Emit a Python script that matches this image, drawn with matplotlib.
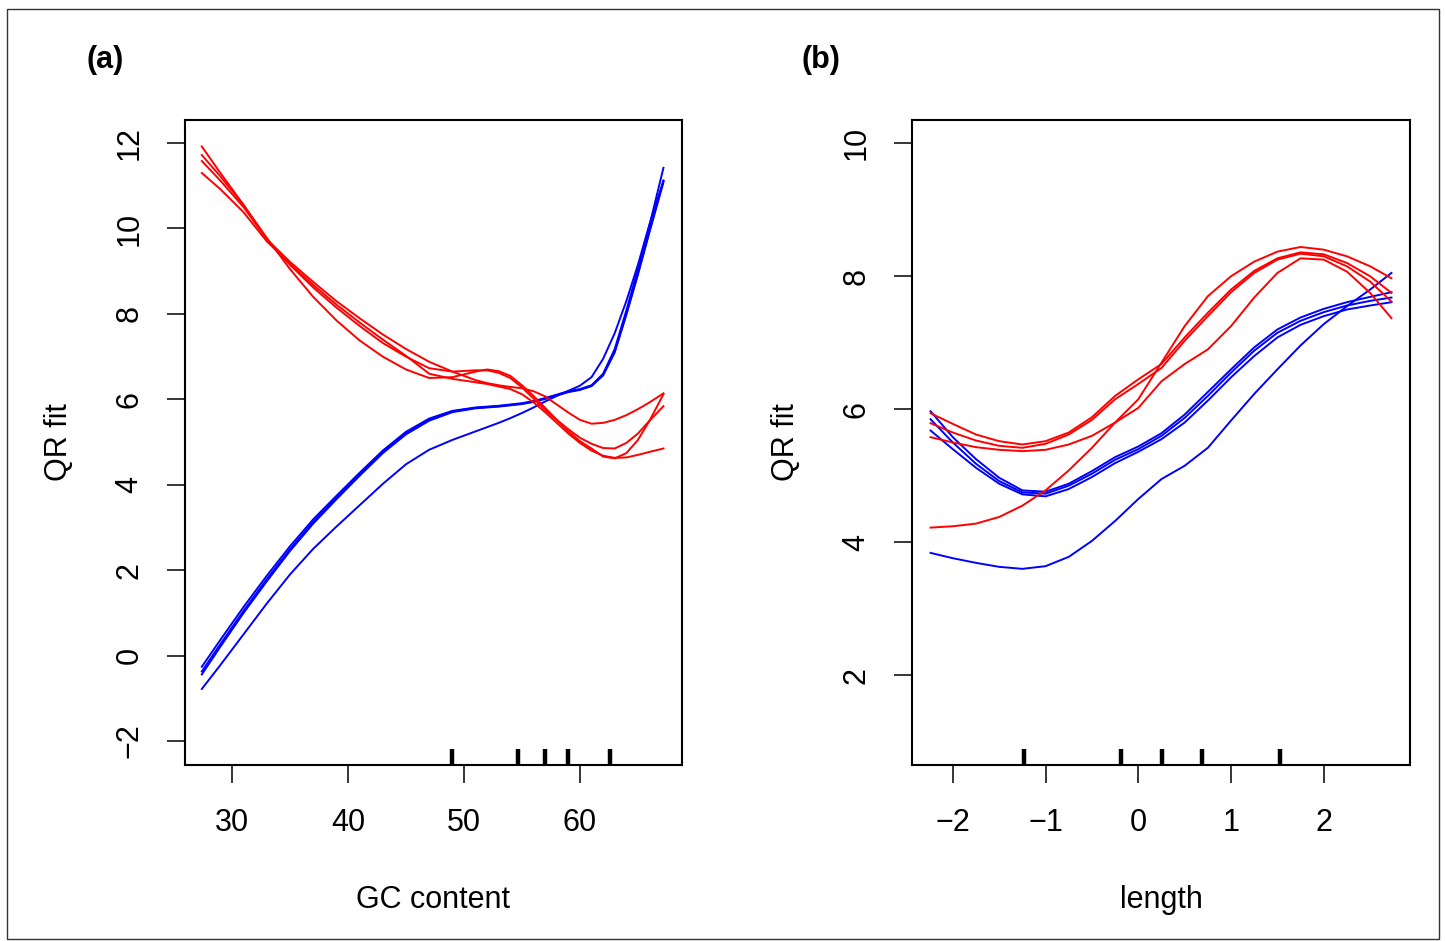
import numpy as np
import matplotlib
matplotlib.use("Agg")
import matplotlib.pyplot as plt
from matplotlib.patches import Rectangle

plt.rcParams['font.family'] = ['Liberation Sans', 'DejaVu Sans']

# ---- panel (a): GC content ----
gc_x = [27.4, 29, 31, 33, 35, 37, 39, 41, 43, 45, 47, 49, 51, 52, 53, 54, 55, 56,
        57, 58, 59, 60, 61, 62, 63, 64, 65, 66, 67.2]

gc_red = [
    [11.92, 11.30, 10.55, 9.78, 9.05, 8.40, 7.85, 7.38, 7.00, 6.70, 6.50, 6.52, 6.65, 6.70, 6.66,
     6.55, 6.33, 6.08, 5.80, 5.52, 5.25, 5.02, 4.85, 4.66, 4.62, 4.74, 5.05, 5.50, 6.12],
    [11.72, 11.22, 10.55, 9.75, 9.22, 8.75, 8.30, 7.90, 7.52, 7.18, 6.88, 6.65, 6.45, 6.38, 6.33,
     6.29, 6.26, 6.19, 6.07, 5.88, 5.69, 5.52, 5.43, 5.45, 5.52, 5.63, 5.77, 5.93, 6.14],
    [11.58, 11.12, 10.50, 9.75, 9.15, 8.62, 8.15, 7.72, 7.32, 7.00, 6.73, 6.65, 6.68, 6.68, 6.62,
     6.50, 6.28, 6.02, 5.75, 5.52, 5.30, 5.10, 4.96, 4.86, 4.85, 4.98, 5.20, 5.50, 5.84],
    [11.30, 10.92, 10.38, 9.70, 9.17, 8.68, 8.22, 7.80, 7.40, 7.02, 6.60, 6.48, 6.40, 6.36, 6.30,
     6.24, 6.12, 5.93, 5.70, 5.45, 5.20, 4.98, 4.80, 4.68, 4.63, 4.64, 4.70, 4.77, 4.85],
]

gc_blue = [
    [-0.26, 0.37, 1.14, 1.87, 2.56, 3.19, 3.74, 4.28, 4.80, 5.24, 5.55, 5.73, 5.81, 5.83, 5.85,
     5.88, 5.91, 5.96, 6.03, 6.11, 6.19, 6.24, 6.33, 6.60, 7.18, 8.08, 9.05, 10.08, 11.42],
    [-0.37, 0.27, 1.05, 1.79, 2.49, 3.13, 3.69, 4.24, 4.77, 5.21, 5.53, 5.72, 5.80, 5.82, 5.84,
     5.87, 5.90, 5.95, 6.02, 6.10, 6.18, 6.23, 6.32, 6.58, 7.12, 8.00, 8.95, 9.95, 11.12],
    [-0.44, 0.21, 1.00, 1.74, 2.45, 3.09, 3.66, 4.21, 4.74, 5.18, 5.50, 5.70, 5.79, 5.81, 5.83,
     5.86, 5.89, 5.94, 6.01, 6.09, 6.17, 6.22, 6.31, 6.56, 7.10, 7.98, 8.92, 9.92, 11.08],
    [-0.78, -0.22, 0.50, 1.22, 1.90, 2.50, 3.02, 3.52, 4.02, 4.48, 4.82, 5.05, 5.25, 5.35, 5.45,
     5.56, 5.68, 5.81, 5.95, 6.08, 6.20, 6.32, 6.52, 6.95, 7.55, 8.30, 9.15, 10.10, 11.12],
]

gc_rug = [48.97, 54.7, 57.0, 59.0, 62.6]

# ---- panel (b): length ----
len_x = [-2.24, -2.0, -1.75, -1.5, -1.25, -1.0, -0.75, -0.5, -0.25, 0.0, 0.25,
         0.5, 0.75, 1.0, 1.25, 1.5, 1.75, 2.0, 2.25, 2.5, 2.73]

len_red = [
    [4.22, 4.24, 4.28, 4.38, 4.55, 4.78, 5.08, 5.42, 5.80, 6.15, 6.70,
     7.25, 7.70, 8.00, 8.22, 8.37, 8.44, 8.40, 8.30, 8.15, 7.97],
    [5.94, 5.78, 5.62, 5.52, 5.47, 5.52, 5.65, 5.88, 6.20, 6.45, 6.68,
     7.08, 7.45, 7.80, 8.08, 8.27, 8.36, 8.33, 8.20, 8.00, 7.75],
    [5.79, 5.65, 5.53, 5.45, 5.42, 5.48, 5.62, 5.84, 6.15, 6.38, 6.62,
     7.03, 7.40, 7.76, 8.05, 8.25, 8.34, 8.30, 8.15, 7.92, 7.62],
    [5.58, 5.50, 5.43, 5.39, 5.37, 5.39, 5.47, 5.60, 5.80, 6.02, 6.42,
     6.68, 6.90, 7.25, 7.68, 8.05, 8.27, 8.25, 8.07, 7.75, 7.37],
]

len_blue = [
    [5.97, 5.58, 5.25, 4.97, 4.78, 4.76, 4.88, 5.07, 5.28, 5.44, 5.64,
     5.92, 6.26, 6.60, 6.93, 7.20, 7.38, 7.51, 7.61, 7.69, 7.76],
    [5.85, 5.50, 5.18, 4.92, 4.75, 4.73, 4.85, 5.03, 5.24, 5.40, 5.60,
     5.87, 6.20, 6.55, 6.88, 7.15, 7.33, 7.46, 7.56, 7.63, 7.68],
    [5.68, 5.40, 5.12, 4.88, 4.72, 4.69, 4.80, 4.98, 5.19, 5.36, 5.55,
     5.80, 6.13, 6.48, 6.80, 7.08, 7.27, 7.40, 7.50, 7.56, 7.61],
    [3.84, 3.76, 3.69, 3.63, 3.60, 3.64, 3.78, 4.02, 4.32, 4.65, 4.95,
     5.15, 5.42, 5.83, 6.23, 6.60, 6.96, 7.28, 7.55, 7.80, 8.05],
]

len_rug = [-1.23, -0.19, 0.26, 0.69, 1.53]

fig = plt.figure(figsize=(14.45, 9.41), dpi=100)

W, H = 1445.0, 941.0
ax_a = fig.add_axes([185 / W, (H - 765) / H, 497 / W, 645 / H])
ax_b = fig.add_axes([912 / W, (H - 765) / H, 498 / W, 645 / H])


def draw_panel(ax, x, reds, blues, rug, xlim, ylim, xticks, yticks, xlabel):
    for y in blues:
        ax.plot(x, y, color='#0000FF', lw=1.4)
    for y in reds:
        ax.plot(x, y, color='#FF0000', lw=1.4)
    # rug marks along the bottom
    ax.vlines(rug, 0, 0.025, transform=ax.get_xaxis_transform(),
              color='black', lw=3.2)
    ax.set_xlim(*xlim)
    ax.set_ylim(*ylim)
    ax.set_xticks(xticks)
    ax.set_yticks(yticks)
    for s in ax.spines.values():
        s.set_linewidth(1.5)
    ax.tick_params(axis='both', direction='out', length=13, width=1.1,
                   labelsize=22)
    ax.tick_params(axis='x', pad=18)
    ax.tick_params(axis='y', pad=16, labelrotation=90)
    for lab in ax.get_yticklabels():
        lab.set_verticalalignment('center')
    ax.set_xlabel(xlabel, fontsize=22, labelpad=34)
    ax.set_ylabel('QR fit', fontsize=22, labelpad=29)


draw_panel(ax_a, gc_x, gc_red, gc_blue, gc_rug, (25.95, 68.8), (-2.56, 12.54),
           [30, 40, 50, 60], [-2, 0, 2, 4, 6, 8, 10, 12], 'GC content')
draw_panel(ax_b, len_x, len_red, len_blue, len_rug, (-2.44, 2.93), (0.65, 10.35),
           [-2, -1, 0, 1, 2], [2, 4, 6, 8, 10], 'length')

fig.text(87 / W, 1 - 60 / H, '(a)', fontsize=22, fontweight='bold',
         ha='left', va='center')
fig.text(801 / W, 1 - 60 / H, '(b)', fontsize=22, fontweight='bold',
         ha='left', va='center')

# outer frame around the figure
fig.patches.append(Rectangle((7 / W, 2 / H), 1432 / W, 930 / H,
                             transform=fig.transFigure, fill=False,
                             edgecolor='#333333', lw=1.0))

fig.savefig('out.png', dpi=100)
